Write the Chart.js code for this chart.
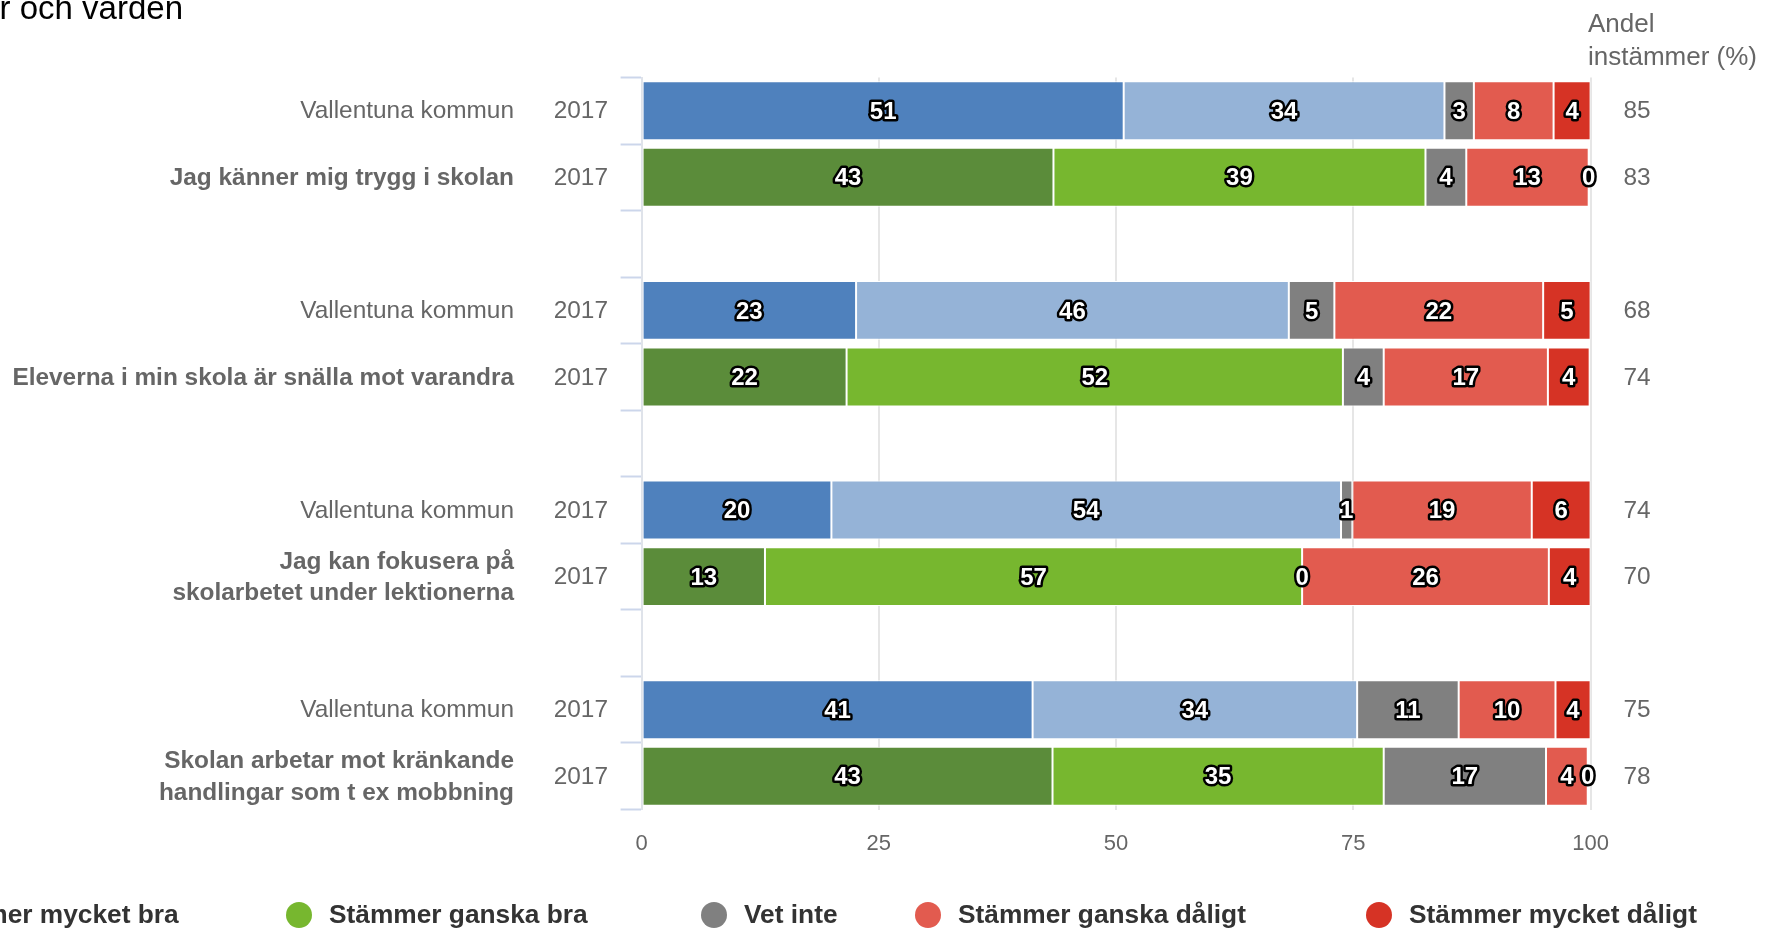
<!DOCTYPE html>
<html>
<head>
<meta charset="utf-8">
<script src="https://cdn.jsdelivr.net/npm/chart.js@4"></script>
<style>
  html, body { margin: 0; padding: 0; background: #ffffff; overflow: hidden; }
  #wrap { position: relative; width: 1765px; height: 931px; }
</style>
</head>
<body>
<div id="wrap"><canvas id="c"></canvas></div>
<script>
// ---------- data ----------
const categories = [
  'Vallentuna kommun',
  ['Jag känner mig trygg i skolan'],
  '',
  'Vallentuna kommun',
  ['Eleverna i min skola är snälla mot varandra'],
  '',
  'Vallentuna kommun',
  ['Jag kan fokusera på', 'skolarbetet under lektionerna'],
  '',
  'Vallentuna kommun',
  ['Skolan arbetar mot kränkande', 'handlingar som t ex mobbning']
];
const rowKind = ['kommun', 'fraga', null, 'kommun', 'fraga', null, 'kommun', 'fraga', null, 'kommun', 'fraga'];
const years = ['2017', '2017', '', '2017', '2017', '', '2017', '2017', '', '2017', '2017'];

const stammerMycketBra    = [50.8, 43.4, null, 22.6, 21.6, null, 20.0, 13.0, null, 41.2, 43.3];
const stammerGanskaBra    = [33.8, 39.2, null, 45.6, 52.3, null, 53.7, 56.6, null, 34.2, 34.9];
const vetInte             = [3.1,  4.3,  null, 4.8,  4.3,  null, 1.2,  0,    null, 10.7, 17.1];
const stammerGanskaDaligt = [8.4,  12.9, null, 22.0, 17.3, null, 18.9, 26.0, null, 10.2, 4.4];
const stammerMycketDaligt = [3.9,  0,    null, 5.0,  4.4,  null, 6.2,  4.4,  null, 3.7,  0];

const andelInstammer = [85, 83, null, 68, 74, null, 74, 70, null, 75, 78];

const xTicks = [0, 25, 50, 75, 100];
const seriesNames = ['Stämmer mycket bra', 'Stämmer ganska bra', 'Vet inte', 'Stämmer ganska dåligt', 'Stämmer mycket dåligt'];

// ---------- styles ----------
const FONT = '"Liberation Sans", Arial, Helvetica, sans-serif';
const palette = {
  kommun: ['#4f81bd', '#95b3d7', '#808080', '#e25b4f', '#d63325'],
  fraga:  ['#5b8c3a', '#77b72f', '#808080', '#e25b4f', '#d63325']
};
const legendColors = ['#5b8c3a', '#77b72f', '#808080', '#e25b4f', '#d63325'];
const legendTextX = [-80, 329, 744, 958, 1409];

function colorsFor(si) {
  return rowKind.map(k => k ? palette[k][si] : 'rgba(0,0,0,0)');
}

const seriesData = [stammerMycketBra, stammerGanskaBra, vetInte, stammerGanskaDaligt, stammerMycketDaligt];
const datasets = seriesData.map((d, si) => ({
  label: seriesNames[si],
  data: d,
  backgroundColor: colorsFor(si),
  borderColor: '#ffffff',
  borderWidth: 1,
  borderSkipped: false,
  barPercentage: 0.885,
  categoryPercentage: 1.0
}));

// ---------- plugins ----------
const decorPlugin = {
  id: 'decor',
  afterDatasetsDraw(chart) {
    const ctx = chart.ctx;
    ctx.save();
    ctx.font = 'bold 24px ' + FONT;
    ctx.textAlign = 'center';
    ctx.textBaseline = 'middle';
    ctx.lineJoin = 'round';
    ctx.lineWidth = 5;
    chart.data.datasets.forEach((ds, di) => {
      const meta = chart.getDatasetMeta(di);
      meta.data.forEach((el, i) => {
        const v = ds.data[i];
        if (v === null || v === undefined) return;
        const cx = (el.x + el.base) / 2;
        const cy = el.y + 1.5;
        const t = String(Math.round(v));
        ctx.strokeStyle = '#000000';
        ctx.strokeText(t, cx, cy);
        ctx.fillStyle = '#ffffff';
        ctx.fillText(t, cx, cy);
      });
    });
    ctx.restore();
  },
  afterDraw(chart) {
    const ctx = chart.ctx;
    const yScale = chart.scales.y;
    ctx.save();
    categories.forEach((lab, i) => {
      if (!rowKind[i]) return;
      const cy = yScale.getPixelForValue(i) + 1;
      const lines = Array.isArray(lab) ? lab : [lab];
      ctx.fillStyle = '#666666';
      ctx.textBaseline = 'middle';
      ctx.textAlign = 'right';
      ctx.font = (rowKind[i] === 'fraga' ? 'bold ' : '') + '24.4px ' + FONT;
      const lh = 31.5;
      lines.forEach((ln, li) => {
        ctx.fillText(ln, 514, cy + (li - (lines.length - 1) / 2) * lh);
      });
      ctx.font = '24.4px ' + FONT;
      ctx.fillText(years[i], 608, cy);
      ctx.textAlign = 'center';
      if (andelInstammer[i] !== null) ctx.fillText(String(andelInstammer[i]), 1637, cy);
    });
    ctx.font = '26px ' + FONT;
    ctx.textAlign = 'left';
    ctx.textBaseline = 'middle';
    ctx.fillStyle = '#666666';
    ctx.fillText('Andel', 1588, 25);
    ctx.fillText('instämmer (%)', 1588, 58);
    ctx.font = '33px ' + FONT;
    ctx.fillStyle = '#000000';
    ctx.textAlign = 'right';
    ctx.textBaseline = 'alphabetic';
    ctx.fillText('Trygghet, normer och värden', 183, 19);
    ctx.font = 'bold 26.3px ' + FONT;
    ctx.textBaseline = 'middle';
    ctx.textAlign = 'left';
    seriesNames.forEach((name, si) => {
      const tx = legendTextX[si];
      ctx.fillStyle = legendColors[si];
      ctx.beginPath();
      ctx.arc(tx - 30, 915, 13, 0, Math.PI * 2);
      ctx.fill();
      ctx.fillStyle = '#333333';
      ctx.fillText(name, tx, 916);
    });
    ctx.restore();
  }
};

// ---------- chart ----------
new Chart(document.getElementById('c'), {
  type: 'bar',
  data: { labels: categories.map((c, i) => 'r' + i), datasets },
  options: {
    indexAxis: 'y',
    responsive: true,
    maintainAspectRatio: false,
    animation: false,
    layout: { padding: { top: 77.5, right: 174.4, bottom: 0, left: 0 } },
    plugins: { legend: { display: false }, tooltip: { enabled: false }, title: { display: false } },
    scales: {
      x: {
        stacked: true,
        min: 0, max: 100,
        afterBuildTicks(scale) { scale.ticks = xTicks.map(v => ({ value: v })); },
        afterFit(scale) { scale.height = 121.5; },
        grid: { color: '#e6e6e6', lineWidth: 2, drawTicks: false },
        border: { display: false },
        ticks: { color: '#666666', font: { family: FONT, size: 22 }, padding: 21 }
      },
      y: {
        stacked: true,
        afterFit(scale) { scale.width = 641.6; },
        grid: { drawOnChartArea: false, drawTicks: true, tickLength: 21, tickColor: '#ccd6eb', tickWidth: 2, offset: true },
        border: { display: true, color: '#dfe3ea', width: 2 },
        ticks: { display: false }
      }
    }
  },
  plugins: [decorPlugin]
});
</script>
</body>
</html>
